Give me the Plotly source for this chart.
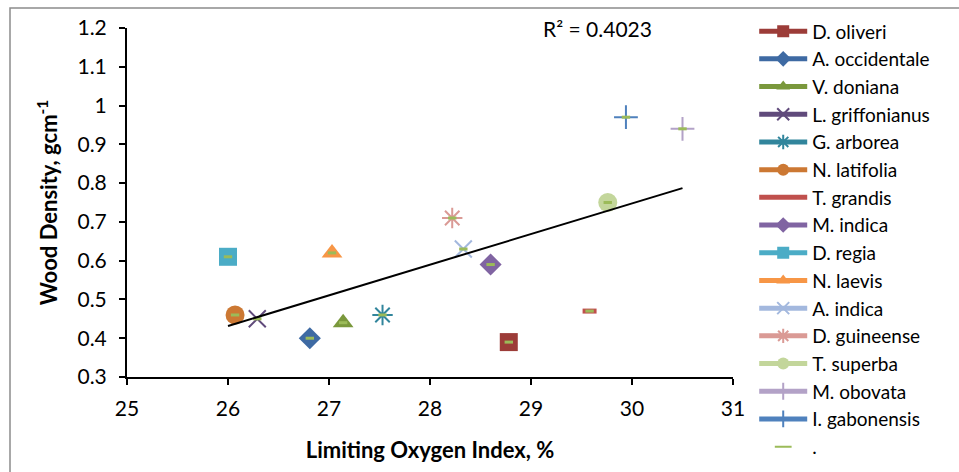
import numpy as np
import plotly.graph_objects as go

species = ["D. oliveri", "A. occidentale", "V. doniana", "L. griffonianus", "G. arborea",
           "N. latifolia", "T. grandis", "M. indica", "D. regia", "N. laevis",
           "A. indica", "D. guineense", "T. superba", "M. obovata", "I. gabonensis"]
loi = [28.78, 26.81, 27.14, 26.29, 27.53, 26.07, 29.58, 28.60, 26.00, 27.03,
       28.33, 28.22, 29.76, 30.50, 29.94]
density = [0.39, 0.40, 0.44, 0.45, 0.46, 0.46, 0.47, 0.59, 0.61, 0.62,
           0.63, 0.71, 0.75, 0.94, 0.97]
colors = ["#9C3C38", "#3E6AA3", "#7A983C", "#604A7B", "#31859C",
          "#CC7833", "#C0504D", "#8064A2", "#4BACC6", "#F79646",
          "#A3B8DE", "#DA9A95", "#C3D69B", "#B3A2C7", "#4F81BD"]
symbols = ["square", "diamond", "triangle-up", "x-thin-open", "asterisk-open",
           "circle", "line-ew-open", "diamond", "square", "triangle-up",
           "x-thin-open", "asterisk-open", "circle", "cross-thin-open", "cross-thin-open"]
sizes = [18, 17, 18, 17, 17, 19, 10, 17, 18, 18, 17, 17, 19, 17, 17]
r2_text = "R² = 0.4023"

FONT = "Lato, 'Open Sans', sans-serif"

fig = go.Figure()
for i, name in enumerate(species):
    thin = symbols[i].endswith("-open")
    lw = 5 if symbols[i].startswith("line-ew") else 2
    fig.add_trace(go.Scatter(
        x=[loi[i]], y=[density[i]], name=name, mode="lines+markers",
        line=dict(color=colors[i], width=4),
        marker=dict(symbol=symbols[i], size=sizes[i], color=colors[i],
                    line=dict(color=colors[i], width=lw if thin else 0)),
    ))

# "." series overlaying all points
fig.add_trace(go.Scatter(
    x=loi, y=density, name=".", mode="markers",
    marker=dict(symbol="line-ew-open", size=6, color="#9BBB59",
                line=dict(color="#9BBB59", width=3)),
))

# linear trendline of the "." series
xa = np.array(loi)
ya = np.array(density)
slope, intercept = np.polyfit(xa, ya, 1)
xt = np.array([xa.min(), xa.max()])
fig.add_trace(go.Scatter(x=xt, y=slope * xt + intercept, mode="lines",
                         line=dict(color="black", width=2), showlegend=False,
                         hoverinfo="skip"))

fig.add_annotation(x=29.66, y=1.2, xref="x", yref="y", text=r2_text, showarrow=False,
                   font=dict(family=FONT, size=21, color="black"), xanchor="center",
                   yanchor="middle")

# outer chart border
fig.add_shape(type="rect", xref="paper", yref="paper",
              x0=(10 - 127) / 606, x1=(975 - 127) / 606,
              y0=(377 - 490) / 349, y1=(377 - 8) / 349,
              line=dict(color="#8C8C8C", width=1.5), fillcolor="rgba(0,0,0,0)", layer="below")

axis_common = dict(showline=True, linecolor="black", linewidth=2, ticks="outside",
                   tickcolor="black", ticklen=6, tickwidth=1.5, showgrid=False, zeroline=False,
                   tickfont=dict(family=FONT, size=21, color="black"))

fig.update_layout(
    width=959, height=472,
    margin=dict(l=127, r=226, t=28, b=95),
    paper_bgcolor="white", plot_bgcolor="white",
    font=dict(family=FONT, color="black"),
    xaxis=dict(range=[25, 31], dtick=1, tick0=25, ticklabelstandoff=6,
               title=dict(text="<b>Limiting Oxygen Index, %</b>",
                          font=dict(family=FONT, size=22, color="black"), standoff=23),
               **axis_common),
    yaxis=dict(range=[0.3, 1.2], dtick=0.1, tick0=0.3, ticklabelstandoff=8,
               title=dict(text="<b>Wood Density, gcm<sup>-1</sup></b>",
                          font=dict(family=FONT, size=22, color="black"), standoff=14),
               **axis_common),
    legend=dict(x=1.035, y=1.045, xanchor="left", yanchor="top",
                font=dict(family=FONT, size=19, color="black"),
                itemwidth=48, tracegroupgap=0, itemsizing="constant",
                maxheight=470, bgcolor="rgba(0,0,0,0)"),
    showlegend=True,
)

fig.write_html("out.html")
